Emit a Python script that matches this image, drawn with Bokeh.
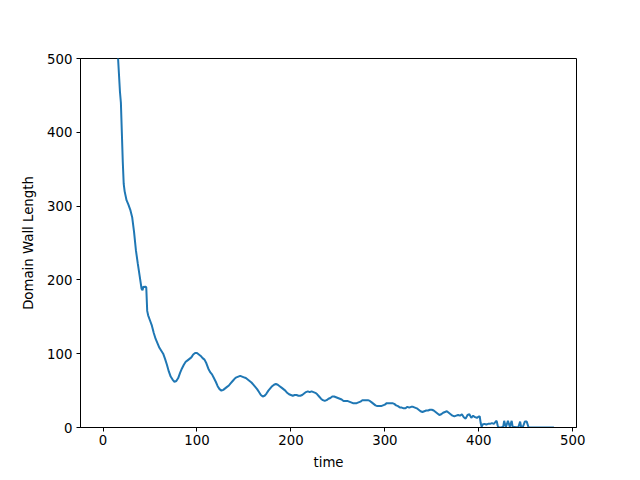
from bokeh.plotting import figure
from bokeh.models import Range1d, FixedTicker
from bokeh.embed import file_html
from bokeh.resources import INLINE

time = [0, 5, 10, 14, 16, 18, 19, 20, 21, 22, 23, 25, 27, 29, 31, 33, 35, 37, 39, 41, 42, 43, 44, 45, 46, 47, 48,
        50, 52, 54, 56, 58, 60, 62, 64, 66, 68, 70, 72, 74, 76, 78, 80, 82, 84, 86, 88, 90, 92, 94, 96, 98,
        100, 102, 104, 106, 108, 110, 112, 114, 116, 118, 120, 122, 124, 126, 128, 130, 132, 134, 136, 138,
        140, 142, 144, 146, 148, 150, 152, 154, 156, 158, 160, 162, 164, 166, 168, 170, 172, 174, 176, 178,
        180, 182, 184, 186, 188, 190, 192, 194, 196, 198, 200, 202, 204, 206, 208, 210, 212, 214, 216, 218,
        220, 222, 224, 226, 228, 230, 232, 234, 236, 238, 240, 242, 244, 246, 248, 250, 252, 254, 256, 258,
        260, 262, 264, 266, 268, 270, 272, 274, 276, 278, 280, 282, 284, 286, 288, 290, 292, 294, 296, 298,
        300, 302, 304, 306, 308, 310, 312, 314, 316, 318, 320, 322, 324, 326, 328, 330, 332, 334, 336, 338,
        340, 342, 344, 346, 348, 350, 352, 354, 356, 358, 360, 362, 364, 366, 368, 370, 372, 374, 376, 378,
        380, 382, 384, 386, 388, 390, 392, 394, 396, 398, 400, 401, 402, 403, 404, 406, 408, 410, 412, 414,
        416, 418, 419, 420, 421, 424, 426, 427, 428, 429, 431, 432, 433, 435, 436, 442, 444, 445, 447, 449,
        451, 453, 480]

wall_length = [1400, 1000, 750, 560, 500, 455, 440, 400, 360, 330, 320, 308, 302, 295, 285, 265, 240, 222, 205, 188, 186, 191, 190, 191, 190, 158, 152,
               145, 138, 128, 120, 114, 108, 104, 100, 93, 85, 76, 69, 65, 62, 63, 67, 74, 80, 85, 89, 91, 93, 95, 99, 101,
               101, 99, 97, 94, 92, 87, 80, 75, 72, 67, 62, 56, 52, 50, 51, 53, 55, 57, 60, 63,
               66, 68, 69, 70, 69, 68, 67, 65, 63, 61, 58, 55, 52, 48, 44, 42, 43, 46, 50, 53,
               56, 58, 59, 58, 56, 54, 52, 50, 47, 45, 44, 43, 44, 44, 43, 43, 44, 46, 48, 49,
               48, 49, 48, 47, 45, 42, 39, 37, 36, 37, 39, 40, 42, 42, 41, 40, 39, 38, 36, 36,
               36, 35, 34, 33, 33, 33, 34, 35, 37, 37, 37, 37, 36, 34, 32, 30, 29, 29, 29, 30,
               31, 33, 33, 33, 33, 32, 30, 29, 27, 27, 26, 26, 28, 27, 28, 28, 27, 26, 24, 22,
               21, 22, 23, 23, 24, 24, 23, 21, 19, 17, 18, 20, 21, 22, 20, 18, 16, 15, 16, 17,
               16, 18, 14, 12, 17, 18, 13, 16, 14, 13, 15, 15, 6, 1, 4, 5, 4, 5, 5, 6,
               5, 8, 9, 3, 0, 0, 1, 9, 4, 1, 9, 5, 1, 9, 1, 0, 8, 1, 1, 8,
               8, 0, 0]

x_ticks = [0, 100, 200, 300, 400, 500]
y_ticks = [0, 100, 200, 300, 400, 500]

p = figure(width=624, height=472, output_backend="svg", toolbar_location=None,
           x_range=Range1d(-24, 504), y_range=Range1d(0, 500),
           min_border_left=80, min_border_right=48, min_border_top=58, min_border_bottom=45)

p.line(time, wall_length, line_color="#1f77b4", line_width=2)

p.grid.visible = False
p.outline_line_color = "black"
p.outline_line_width = 1
p.background_fill_color = "white"
p.border_fill_color = "white"

for ax, ticks in ((p.xaxis, x_ticks), (p.yaxis, y_ticks)):
    ax.ticker = FixedTicker(ticks=ticks)
    ax.major_tick_out = 4
    ax.major_tick_in = 0
    ax.minor_tick_line_color = None
    ax.axis_line_color = "black"
    ax.major_tick_line_color = "black"
    ax.major_label_text_font = "DejaVu Sans"
    ax.major_label_text_font_size = "13.3px"
    ax.major_label_text_color = "black"
    ax.axis_label_text_font = "DejaVu Sans"
    ax.axis_label_text_font_size = "13.3px"
    ax.axis_label_text_font_style = "normal"
    ax.axis_label_text_color = "black"

p.xaxis.axis_label = "time"
p.yaxis.axis_label = "Domain Wall Length"
p.xaxis.axis_label_standoff = 7
p.yaxis.axis_label_standoff = 8
p.xaxis.major_label_standoff = 3
p.yaxis.major_label_standoff = 4

open("out.html", "w").write(file_html(p, INLINE))
